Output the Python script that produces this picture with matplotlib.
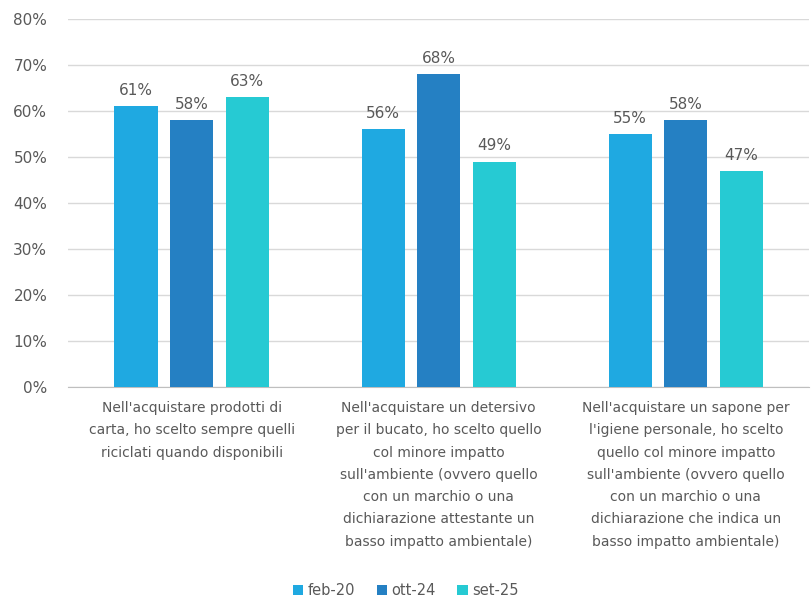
import numpy as np
import matplotlib.pyplot as plt

categorie = [
    "Nell'acquistare prodotti di\ncarta, ho scelto sempre quelli\nriciclati quando disponibili",
    "Nell'acquistare un detersivo\nper il bucato, ho scelto quello\ncol minore impatto\nsull'ambiente (ovvero quello\ncon un marchio o una\ndichiarazione attestante un\nbasso impatto ambientale)",
    "Nell'acquistare un sapone per\nl'igiene personale, ho scelto\nquello col minore impatto\nsull'ambiente (ovvero quello\ncon un marchio o una\ndichiarazione che indica un\nbasso impatto ambientale)",
]
serie = ["feb-20", "ott-24", "set-25"]
feb20 = [61, 56, 55]
ott24 = [58, 68, 58]
set25 = [63, 49, 47]
colori = ["#1FA9E1", "#2580C3", "#26CAD3"]

grigio = "#595959"
fig = plt.figure(figsize=(8.11, 6.03), dpi=100)
ax = fig.add_axes([0.084, 0.358, 0.914, 0.6105])

x = np.arange(len(categorie))
w = 0.175
passo = 0.225
for i, (nome, valori) in enumerate(zip(serie, [feb20, ott24, set25])):
    pos = x + (i - 1) * passo
    barre = ax.bar(pos, valori, w, color=colori[i], label=nome, zorder=3)
    for b, v in zip(barre, valori):
        ax.text(b.get_x() + b.get_width() / 2, v + 1.8, f"{v}%", ha="center",
                va="bottom", fontsize=11, color=grigio)

ax.set_ylim(0, 80)
ax.set_xlim(-0.5, 2.5)
ax.set_yticks(range(0, 81, 10))
ax.set_yticklabels([f"{t}%" for t in range(0, 81, 10)], fontsize=11, color=grigio)
ax.set_xticks(x)
ax.set_xticklabels(categorie, fontsize=10, color=grigio, linespacing=1.75, va="top")
ax.tick_params(axis="y", length=0, pad=15)
ax.tick_params(axis="x", length=0, pad=10)
ax.grid(axis="y", color="#D9D9D9", linewidth=1, zorder=0)
for s in ["top", "right", "left"]:
    ax.spines[s].set_visible(False)
ax.spines["bottom"].set_color("#BFBFBF")

fig.legend(loc="center", bbox_to_anchor=(0.5, 0.02), ncol=3, frameon=False,
           fontsize=10.5, handlelength=0.7, handleheight=0.7, handletextpad=0.3,
           columnspacing=1.5, labelcolor=grigio)

fig.savefig("out.png", dpi=100)
